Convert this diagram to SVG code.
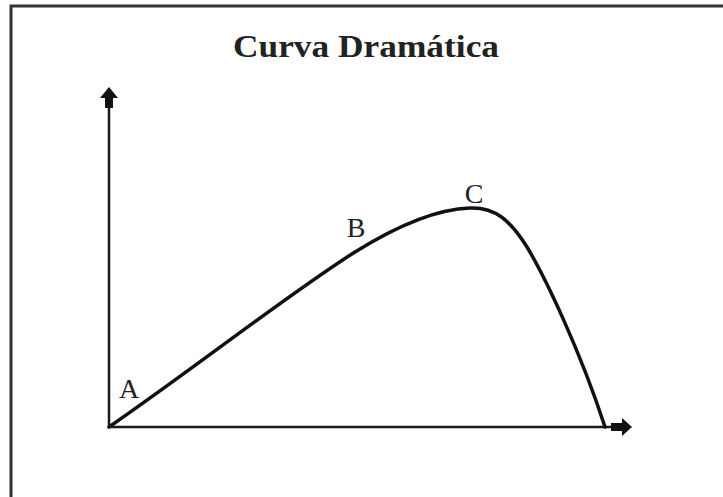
<svg xmlns="http://www.w3.org/2000/svg" width="723" height="497" viewBox="0 0 723 497">
<style>
.lbl{font-family:"Liberation Serif","Times New Roman",serif;fill:#222;font-size:28px;text-anchor:middle}
.ttl{font-family:"Liberation Serif","Times New Roman",serif;fill:#222;font-size:31px;font-weight:bold;text-anchor:middle}
.axis{stroke:#1a1a1a;stroke-width:2.5;fill:none}
.curve{stroke:#111;stroke-width:3.5;fill:none;stroke-linecap:round}
.head{fill:#111}
</style>
<rect width="723" height="497" fill="#fff"/>
<path d="M11,497 V6 H723" fill="none" stroke="#333" stroke-width="3"/>
<g id="title"><text class="ttl" x="366" y="57" textLength="266" lengthAdjust="spacingAndGlyphs">Curva Dramática</text></g>
<g id="connectors">
<line class="axis" x1="109" y1="428" x2="109" y2="100"/>
<polygon class="head" points="109,87 118,98 113,98 113,108 105,108 105,98 100,98"/>
<line class="axis" x1="108" y1="427" x2="614" y2="427"/>
<polygon class="head" points="632,427 622,436 622,431 611,431 611,423 622,423 622,418"/>
<path class="curve" d="M109,427 C200,364 290,293 355,252 C400,224 440,209 470,208 C495,207 510,220 527,247 C545,277 580,350 605,427"/>
</g>
<g id="A"><text class="lbl" x="129" y="398">A</text></g>
<g id="B"><text class="lbl" x="356" y="237">B</text></g>
<g id="C"><text class="lbl" x="474" y="203">C</text></g>
</svg>
